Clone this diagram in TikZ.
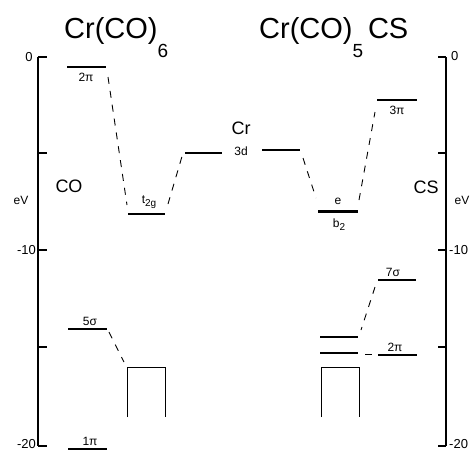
\documentclass[tikz,border=0pt]{standalone}
\usepackage{fontspec}
\setmainfont{Liberation Sans}
\newcommand{\lowsub}[1]{\raisebox{-3pt}{\fontsize{10}{10}\selectfont #1}}
\begin{document}
\begin{tikzpicture}[x=1pt,y=-1pt,
  level/.style={line width=1.3pt},
  thicklevel/.style={line width=3pt},
  conn/.style={line width=0.9pt, dash pattern=on 7pt off 7pt},
  axisline/.style={line width=1.1pt},
  boxline/.style={line width=1pt},
  lab/.style={font=\fontsize{12}{12}\selectfont, inner sep=0pt},
  big/.style={font=\fontsize{18}{18}\selectfont, inner sep=0pt},
  ticklab/.style={font=\fontsize{13}{13}\selectfont, inner sep=0pt},
  title/.style={font=\fontsize{29}{29}\selectfont, inner sep=0pt, anchor=base west}]
\useasboundingbox (0,0) rectangle (476,451);

% titles
\node[title] (t1) at (64,38) {Cr(CO)\raisebox{-19pt}{\fontsize{19}{19}\selectfont 6}};
\node[title] (t2) at (259,38) {Cr(CO)\raisebox{-19pt}{\fontsize{19}{19}\selectfont 5}\,CS};

% axes
\coordinate (la0) at (38,57); \coordinate (la1) at (38,446);
\coordinate (ra0) at (446,57); \coordinate (ra1) at (446,446);
\draw[axisline] (la0) -- (la1);
\draw[axisline] (ra0) -- (ra1);
\foreach \y in {57,153,250,347,446}{
  \draw[axisline] (38,\y) -- (47,\y);
  \draw[axisline] (446,\y) -- (438,\y);
}
\node[ticklab,anchor=center] (l0) at (29,57) {0};
\node[ticklab,anchor=east] (l10) at (36,250) {-10};
\node[ticklab,anchor=east] (l20) at (36,444) {-20};
\node[ticklab,anchor=west] (r0) at (451,56) {0};
\node[ticklab,anchor=west] (r10) at (449,250) {-10};
\node[ticklab,anchor=west] (r20) at (449,444) {-20};
\node[lab] (evl) at (21,200) {eV};
\node[lab] (evr) at (462,200) {eV};
\node[big] (co) at (69,186) {CO};
\node[big] (cs) at (426,187) {CS};
\node[big] (cr) at (241,128) {Cr};

% levels
\coordinate (a2piL) at (67,67);  \coordinate (b2piL) at (106,67);
\coordinate (at2g) at (128,214); \coordinate (bt2g) at (165,214);
\coordinate (a3dL) at (185,153); \coordinate (b3dL) at (222,153);
\coordinate (a3dR) at (262,150); \coordinate (b3dR) at (300,150);
\coordinate (ae) at (318,211);   \coordinate (be) at (358,211);
\coordinate (a3pi) at (377,100); \coordinate (b3pi) at (417,100);
\coordinate (a7s) at (378,280);  \coordinate (b7s) at (416,280);
\coordinate (aRa) at (320,337);  \coordinate (bRa) at (358,337);
\coordinate (aRb) at (320,353);  \coordinate (bRb) at (358,353);
\coordinate (a2piR) at (378,355); \coordinate (b2piR) at (417,355);
\coordinate (a5s) at (68,329);   \coordinate (b5s) at (107,329);
\coordinate (a1pi) at (68,449);  \coordinate (b1pi) at (107,449);

\draw[level] (a2piL) -- (b2piL);
\draw[level] (at2g) -- (bt2g);
\draw[level] (a3dL) -- (b3dL);
\draw[level] (a3dR) -- (b3dR);
\draw[thicklevel] (ae) -- (be);
\draw[level] (a3pi) -- (b3pi);
\draw[level] (a7s) -- (b7s);
\draw[level] (aRa) -- (bRa);
\draw[level] (aRb) -- (bRb);
\draw[level] (a2piR) -- (b2piR);
\draw[level] (a5s) -- (b5s);
\draw[level] (a1pi) -- (b1pi);

% level labels
\node[lab] (n2piL) at (86,77) {2π};
\node[lab] (nt2g) at (149,202) {t\lowsub{2g}};
\node[lab] (n3d) at (241,151) {3d};
\node[lab] (ne) at (338,201) {e};
\node[lab] (nb2) at (339,225) {b\lowsub{2}};
\node[lab] (n3pi) at (397,110) {3π};
\node[lab] (n7s) at (393,272) {7σ};
\node[lab] (n2piR) at (395,347) {2π};
\node[lab] (n5s) at (90,321) {5σ};
\node[lab] (n1pi) at (90,441) {1π};

% boxes
\coordinate (bl1) at (127,417); \coordinate (bl2) at (127,367);
\coordinate (bl3) at (165,367); \coordinate (bl4) at (165,417);
\coordinate (br1) at (321,417); \coordinate (br2) at (321,367);
\coordinate (br3) at (359,367); \coordinate (br4) at (359,417);
\draw[boxline] (bl1) -- (bl2) -- (bl3) -- (bl4);
\draw[boxline] (br1) -- (br2) -- (br3) -- (br4);

% connectors
\coordinate (c1a) at (108,77);  \coordinate (c1b) at (127,205);
\coordinate (c2a) at (168,204); \coordinate (c2b) at (183,153);
\coordinate (c3a) at (303,158); \coordinate (c3b) at (316,198);
\coordinate (c4a) at (359,200); \coordinate (c4b) at (375,112);
\coordinate (c5a) at (375,287); \coordinate (c5b) at (361,330);
\coordinate (c6a) at (365,354); \coordinate (c6b) at (372,354);
\coordinate (c7a) at (109,332); \coordinate (c7b) at (124,362);
\draw[conn] (c1a) -- (c1b);
\draw[conn] (c2a) -- (c2b);
\draw[conn] (c3a) -- (c3b);
\draw[conn] (c4a) -- (c4b);
\draw[conn] (c5a) -- (c5b);
\draw[line width=0.9pt] (c6a) -- (c6b);
\draw[conn] (c7a) -- (c7b);
\end{tikzpicture}
\end{document}
